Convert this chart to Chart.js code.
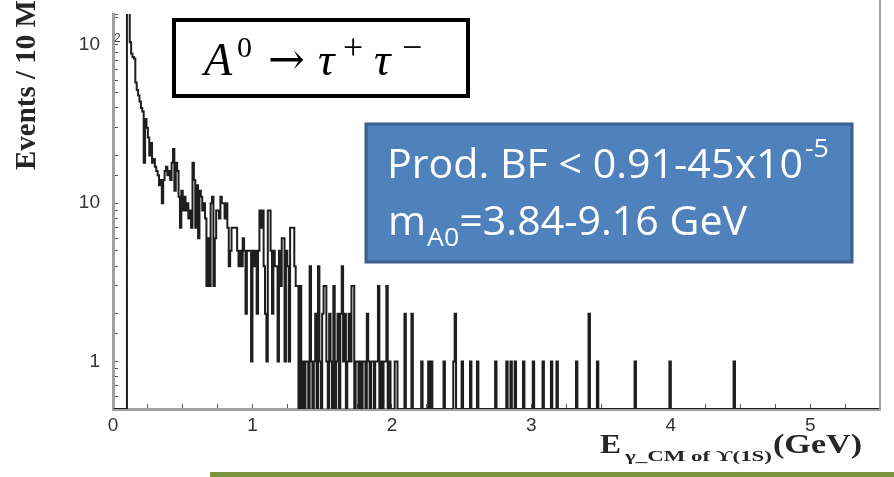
<!DOCTYPE html>
<html>
<head>
<meta charset="utf-8">
<title>A0 tau tau</title>
<script src="https://cdn.jsdelivr.net/npm/chart.js@4.4.1/dist/chart.umd.min.js"></script>
<style>
  body { margin: 0; background: #fff; }
  canvas { display: block; }
</style>
</head>
<body>
<canvas id="grafico" width="894" height="477"></canvas>
<script>
// eventos por bin de 10 MeV, desde 0.10 GeV hasta 1.99 GeV
let inicioDenso = 0.10
let anchoBin = 0.01
let conteosDensos = [
  250, 160, 104, 88, 84, 82, 58, 52, 48, 44,
  40, 38, 18, 34, 30, 26, 20, 24, 18, 19,
  17, 16, 15, 13, 14, 10, 14, 16, 17, 15,
  16, 14, 18, 22, 12, 18, 16, 11, 7, 12,
  9, 11, 9, 10, 8, 9, 7, 18, 14, 7,
  13, 6, 12, 11, 9, 10, 8, 3, 6, 3,
  10, 11, 3, 6, 9, 9, 8, 11, 10, 10,
  8, 10, 7, 4, 5, 7, 7, 7, 7, 5,
  4, 5, 4, 6, 5, 2, 5, 5, 5, 1,
  5, 4, 5, 2, 5, 9, 7, 9, 4, 2,
  1, 9, 9, 5, 2, 5, 4, 4, 1, 5,
  3, 6, 6, 1, 5, 4, 1, 7, 7, 7,
  4, 3, 3, 0, 3, 0, 1, 0, 1, 1,
  0, 4, 1, 0, 1, 2, 0, 4, 1, 0,
  2, 3, 3, 1, 0, 2, 1, 0, 3, 0,
  1, 2, 0, 2, 4, 1, 2, 0, 1, 2,
  1, 3, 3, 0, 1, 1, 0, 1, 0, 1,
  1, 0, 2, 1, 0, 1, 1, 0, 1, 1,
  3, 0, 1, 0, 1, 1, 3, 0, 1, 0
]
// bins sueltos por encima de 2 GeV (los demas estan vacios)
let energiasCola = [2.02, 2.03, 2.09, 2.14, 2.21, 2.26, 2.28, 2.37, 2.44, 2.45,
  2.50, 2.56, 2.61, 2.74, 2.82, 2.85, 2.88, 2.94, 3.01, 3.08,
  3.14, 3.18, 3.32, 3.41, 3.47, 3.74, 3.99, 4.45]
let conteosCola = [1, 1, 2, 2, 1, 1, 1, 1, 1, 2,
  1, 1, 1, 1, 1, 1, 1, 1, 1, 1,
  1, 1, 1, 2, 1, 1, 1, 1]

let rangoX = [0, 5.5]
let rangoY = [0.5, 157]
let ticksX = [0, 1, 2, 3, 4, 5]
let etiquetasX = ['0', '1', '2', '3', '4', '5']
let ticksY = [1, 10, 100]
let etiquetasY = ['1', '10', '10']
let exponentesY = ['', '', '2']

let armarPuntos = () => {
  let nBins = Math.round(rangoX[1] / anchoBin)
  let conteos = new Array(nBins).fill(0)
  let i0 = Math.round(inicioDenso / anchoBin)
  conteosDensos.forEach((c, k) => { conteos[i0 + k] = c })
  energiasCola.forEach((e, k) => { conteos[Math.round(e / anchoBin)] = conteosCola[k] })
  // en escala log los bins vacios van al piso del eje
  return conteos.map((c, i) => ({ x: (i + 0.5) * anchoBin, y: c > 0 ? c : rangoY[0] }))
}

// texto con ancho fijo (se estira/encoge en x)
let textoAjustado = (ctx, texto, x, y, ancho) => {
  let w = ctx.measureText(texto).width
  ctx.save()
  ctx.translate(x, y)
  ctx.scale(ancho / w, 1)
  ctx.fillText(texto, 0, 0)
  ctx.restore()
  return x + ancho
}

let decoraciones = {
  id: 'decoraciones',
  afterDraw: (chart) => {
    let ctx = chart.ctx
    let area = chart.chartArea
    let escalaY = chart.scales.y
    ctx.save()

    // borde derecho del marco
    ctx.strokeStyle = '#a0a0a0'
    ctx.lineWidth = 2
    ctx.beginPath()
    ctx.moveTo(area.right, 0)
    ctx.lineTo(area.right, area.bottom)
    ctx.stroke()

    // exponentes de las etiquetas del eje y
    ctx.fillStyle = '#444'
    ctx.font = '12px "Liberation Sans"'
    ctx.textAlign = 'left'
    ctx.textBaseline = 'alphabetic'
    ticksY.forEach((v, k) => {
      if (exponentesY[k]) ctx.fillText(exponentesY[k], area.left + 1, escalaY.getPixelForValue(v) - 3)
    })

    // titulo eje y (cortado arriba como en la figura)
    ctx.fillStyle = '#262626'
    ctx.font = 'bold 29px "Liberation Serif"'
    ctx.save()
    ctx.translate(35, 170)
    ctx.rotate(-Math.PI / 2)
    ctx.fillText('Events / 10 MeV', 0, 0)
    ctx.restore()

    // titulo eje x
    ctx.font = 'bold 27px "Liberation Serif"'
    textoAjustado(ctx, 'E', 600, 453, 21)
    ctx.font = 'bold 15px "Liberation Serif"'
    textoAjustado(ctx, 'γ_CM of ϒ(1S)', 625, 461, 147)
    ctx.font = 'bold 28px "Liberation Serif"'
    textoAjustado(ctx, '(GeV)', 773, 453, 89)

    // caja A0 -> tau tau
    ctx.fillStyle = '#fff'
    ctx.fillRect(174, 20, 294, 76)
    ctx.strokeStyle = '#000'
    ctx.lineWidth = 4
    ctx.strokeRect(174, 20, 294, 76)
    ctx.fillStyle = '#000'
    ctx.font = 'italic 46px "Liberation Serif"'
    ctx.fillText('A', 204, 75)
    ctx.fillText('τ', 318, 75)
    ctx.fillText('τ', 374, 75)
    ctx.font = '30px "Liberation Serif"'
    ctx.fillText('0', 237, 57)
    ctx.font = '36px "Liberation Serif"'
    ctx.fillText('+', 343, 59)
    ctx.fillText('−', 402, 59)
    ctx.font = '44px "DejaVu Serif"'
    ctx.fillText('→', 268, 74)

    // caja azul
    ctx.fillStyle = '#4f81bd'
    ctx.fillRect(366, 124, 486, 138)
    ctx.strokeStyle = '#3a5f8d'
    ctx.lineWidth = 3
    ctx.strokeRect(366, 124, 486, 138)
    ctx.fillStyle = '#fff'
    ctx.font = '40px "Open Sans"'
    let sx = 416 / ctx.measureText('Prod. BF < 0.91-45x10').width
    textoAjustado(ctx, 'Prod. BF < 0.91-45x10', 387, 178, 416)
    let xm = 388
    xm = textoAjustado(ctx, 'm', xm, 235, ctx.measureText('m').width * sx)
    ctx.font = '26px "Open Sans"'
    textoAjustado(ctx, '-5', 805, 157, ctx.measureText('-5').width * sx)
    xm = textoAjustado(ctx, 'A0', xm + 1, 246, ctx.measureText('A0').width * sx)
    ctx.font = '40px "Open Sans"'
    textoAjustado(ctx, '=3.84-9.16 GeV', xm, 235, ctx.measureText('=3.84-9.16 GeV').width * sx)

    // linea verde de la diapositiva
    ctx.fillStyle = '#77933c'
    ctx.fillRect(210, 472, 684, 5)
    ctx.restore()
  }
}

let cargarGrafico = () => {
  Chart.defaults.font.family = '"Liberation Sans", Arial, sans-serif'
  let ctx = document.getElementById('grafico').getContext('2d')

  new Chart(ctx, {
    type: 'line',
    data: {
      datasets: [{
        label: 'eventos',
        data: armarPuntos(),
        stepped: 'middle',
        borderColor: '#1e1e1e',
        borderWidth: 2,
        pointRadius: 0,
        fill: false,
        tension: 0
      }]
    },
    options: {
      responsive: false,
      animation: false,
      devicePixelRatio: 1,
      layout: { padding: { top: 14, right: 14, left: 0, bottom: 0 } },
      plugins: {
        legend: { display: false },
        tooltip: { enabled: false }
      },
      scales: {
        x: {
          type: 'linear',
          min: rangoX[0],
          max: rangoX[1],
          bounds: 'data',
          z: 1,
          afterFit: (s) => {
            s.height = 68
            s.paddingLeft = 0
            s.paddingRight = 0
          },
          border: { color: '#a0a0a0', width: 3 },
          grid: { drawOnChartArea: false, tickLength: -5, color: '#555', lineWidth: 1 },
          ticks: {
            stepSize: 0.25,
            autoSkip: false,
            maxRotation: 0,
            padding: 10,
            color: '#333',
            font: { size: 19 },
            callback: (v) => {
              let k = ticksX.indexOf(v)
              return k >= 0 ? etiquetasX[k] : ''
            }
          }
        },
        y: {
          type: 'logarithmic',
          min: rangoY[0],
          max: rangoY[1],
          bounds: 'data',
          z: 1,
          afterFit: (s) => {
            s.width = 113
            s.paddingTop = 0
            s.paddingBottom = 0
          },
          border: { color: '#a0a0a0', width: 3 },
          grid: { drawOnChartArea: false, tickLength: -5, color: '#555', lineWidth: 1 },
          ticks: {
            autoSkip: false,
            padding: 18,
            color: '#333',
            font: { size: 19 },
            callback: (v) => {
              let k = ticksY.indexOf(v)
              return k >= 0 ? etiquetasY[k] : ''
            }
          }
        }
      }
    },
    plugins: [decoraciones]
  })
}

window.addEventListener('DOMContentLoaded', (event) => {
  cargarGrafico()
})
</script>
</body>
</html>
